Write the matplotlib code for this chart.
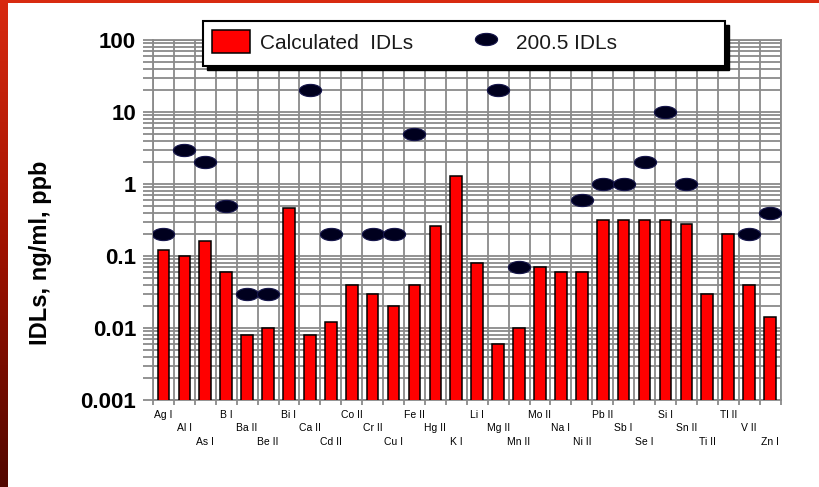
import numpy as np
import matplotlib
matplotlib.use('Agg')
import matplotlib.pyplot as plt
from matplotlib.colors import LinearSegmentedColormap
from matplotlib.patches import Rectangle
from matplotlib.ticker import LogLocator, FuncFormatter, NullFormatter

plt.rcParams['font.family'] = ['Liberation Sans', 'DejaVu Sans']

elements = ['Ag I', 'Al I', 'As I', 'B I', 'Ba II', 'Be II', 'Bi I', 'Ca II', 'Cd II', 'Co II',
            'Cr II', 'Cu I', 'Fe II', 'Hg II', 'K I', 'Li I', 'Mg II', 'Mn II', 'Mo II', 'Na I',
            'Ni II', 'Pb II', 'Sb I', 'Se I', 'Si I', 'Sn II', 'Ti II', 'Tl II', 'V II', 'Zn I']

calc_idl = [0.12, 0.10, 0.16, 0.06, 0.008, 0.010, 0.47, 0.008, 0.012, 0.04,
            0.03, 0.02, 0.04, 0.26, 1.3, 0.08, 0.006, 0.010, 0.07, 0.06,
            0.06, 0.32, 0.32, 0.32, 0.32, 0.28, 0.03, 0.20, 0.04, 0.014]

# method 200.5 limits, nan where no value is listed
epa_idl = [0.2, 3, 2, 0.5, 0.03, 0.03, np.nan, 20, 0.2, np.nan,
           0.2, 0.2, 5, np.nan, np.nan, np.nan, 20, 0.07, np.nan, np.nan,
           0.6, 1, 1, 2, 10, 1, np.nan, np.nan, 0.2, 0.4]

grey = '#8a8a8a'
W, H = 819, 487

fig = plt.figure(figsize=(W / 100, H / 100), dpi=100)
ax = fig.add_axes([153 / W, 87 / H, 627.5 / W, 360 / H])

x = np.arange(len(elements))
bars = ax.bar(x, calc_idl, width=0.56, color='#ff0000', edgecolor='black', linewidth=1.1, zorder=3)

# flattened ellipse marker
t = np.linspace(0, 2 * np.pi, 60)
ellipse = list(zip(np.cos(t), 0.55 * np.sin(t)))
dots, = ax.plot(x, epa_idl, linestyle='none', marker=ellipse, markersize=16,
                color='#00001e', markeredgecolor='#15154a', markeredgewidth=0.8, zorder=4)

ax.set_yscale('log')
ax.set_ylim(1e-3, 100)
ax.set_xlim(-0.5, len(elements) - 0.5)
ax.yaxis.set_major_locator(LogLocator(base=10, numticks=10))
ax.yaxis.set_minor_locator(LogLocator(base=10, subs=np.arange(2, 10), numticks=10))
ax.yaxis.set_major_formatter(FuncFormatter(lambda v, p: f'{v:g}'))
ax.yaxis.set_minor_formatter(NullFormatter())
ax.tick_params(axis='y', which='both', length=7.2, width=1.3, color=grey, pad=5)
ax.tick_params(axis='y', which='major', labelsize=16)
for lab in ax.get_yticklabels():
    lab.set_fontweight('bold')

ax.set_xticks(np.arange(-0.5, len(elements), 1))
ax.set_xticklabels([])
ax.tick_params(axis='x', length=3.6, width=1.3, color=grey)

ax.set_axisbelow(True)
ax.grid(True, axis='y', which='both', color=grey, linewidth=1.3)
ax.grid(True, axis='x', which='major', color=grey, linewidth=1.3)
for s in ax.spines.values():
    s.set_color(grey)
    s.set_linewidth(1.3)

# element names staggered over three rows
offsets = [10.8, 20.2, 30.2]
for i, name in enumerate(elements):
    ax.annotate(name, xy=(i, 0), xycoords=('data', 'axes fraction'),
                xytext=(0, -offsets[i % 3]), textcoords='offset points',
                ha='center', va='center', fontsize=7.5, color='black')

fig.text(41 / W, 1 - 253 / H, 'IDLs, ng/ml, ppb', rotation=90, ha='center', va='center',
         fontsize=17, fontweight='bold')

# legend box with hard drop shadow
bx0, by0, bx1, by1 = 203, 21, 725, 66
fig.patches.append(Rectangle(((bx0 + 4) / W, 1 - (by1 + 4) / H), (bx1 - bx0) / W, (by1 - by0) / H,
                             transform=fig.transFigure, facecolor='black', edgecolor='black', zorder=5))
fig.patches.append(Rectangle((bx0 / W, 1 - by1 / H), (bx1 - bx0) / W, (by1 - by0) / H,
                             transform=fig.transFigure, facecolor='white', edgecolor='black',
                             linewidth=1.5, zorder=6))
leg = fig.legend([bars, dots], ['Calculated  IDLs', '200.5 IDLs'], loc='upper left',
                 bbox_to_anchor=(212 / W, 1 - 30 / H), frameon=False, ncol=2,
                 borderpad=0, borderaxespad=0, handlelength=1.83, handleheight=1.35,
                 handletextpad=0.48, columnspacing=2.6, fontsize=15, labelcolor='#1a1a1a')
leg.set_zorder(7)

# red frame: gradient band on the left and a line along the top
gax = fig.add_axes([0, 0, 7 / W, 1])
cmap = LinearSegmentedColormap.from_list('frame', ['#d82a10', '#a01200', '#520800'])
gax.imshow(np.linspace(0, 1, 256).reshape(-1, 1), aspect='auto', cmap=cmap)
gax.axis('off')
fig.patches.append(Rectangle((0, 1 - 3 / H), 1, 3 / H, transform=fig.transFigure,
                             facecolor='#d82a10', edgecolor='none', zorder=8))

fig.savefig('out.png', dpi=100)
